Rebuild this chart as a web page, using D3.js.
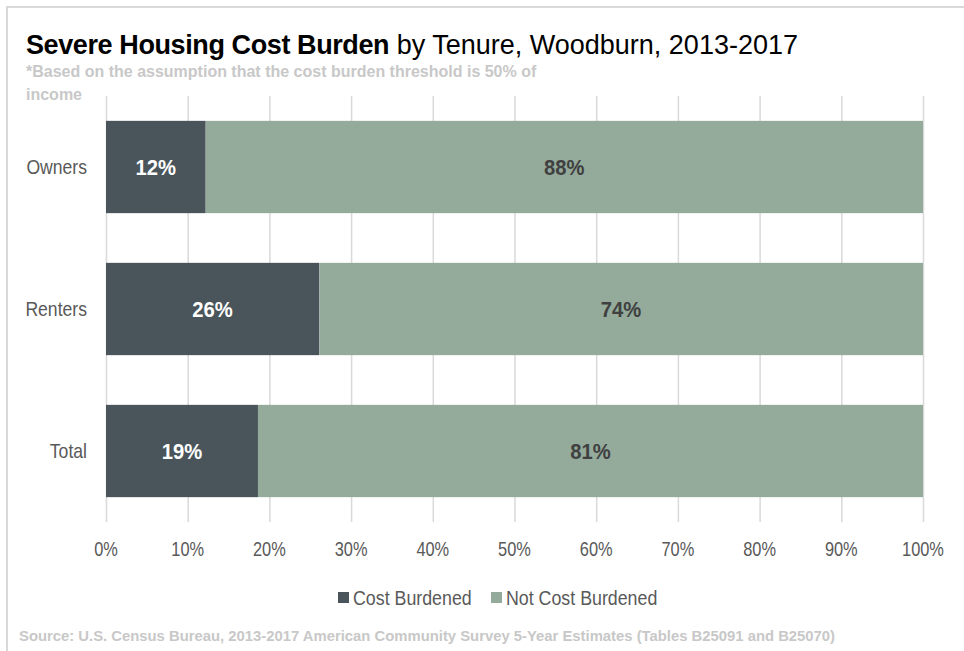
<!DOCTYPE html>
<html lang="en">
<head>
    <meta charset="UTF-8">
    <title>Severe Housing Cost Burden by Tenure, Woodburn, 2013-2017</title>
    <script src="https://cdnjs.cloudflare.com/ajax/libs/d3/7.8.5/d3.min.js"></script>
    <style>
        body { margin: 0; background: #fff; }
        svg { display: block; font-family: "Liberation Sans", Arial, sans-serif; }
        .grid line { stroke: #d9d9d9; stroke-width: 1.5; }
        .grid path { display: none; }
    </style>
</head>
<body>
    <div id="chart"></div>
    <script>
        // Data
        const categories = ["Owners", "Renters", "Total"];
        const costBurdened = [12.2, 26.1, 18.6];
        const notCostBurdened = [87.8, 73.9, 81.4];
        const seriesNames = ["Cost Burdened", "Not Cost Burdened"];
        const xTicks = [0, 10, 20, 30, 40, 50, 60, 70, 80, 90, 100];

        const W = 964, H = 651;
        const colors = ["#4a555b", "#94ab9c"];
        const labelColors = ["#ffffff", "#404040"];

        // squeeze text horizontally around its own x (the original uses a narrow font)
        function narrow(sel, f) {
            sel.each(function () {
                const t = d3.select(this);
                const ax = +t.attr("x");
                t.attr("transform", `translate(${ax},0) scale(${f},1) translate(${-ax},0)`);
            });
        }

        const svg = d3.select("#chart").append("svg")
            .attr("width", W).attr("height", H);

        // frame (top and left edges)
        svg.append("line").attr("x1", 6).attr("x2", W).attr("y1", 7).attr("y2", 7)
            .attr("stroke", "#d9d9d9").attr("stroke-width", 2);
        svg.append("line").attr("x1", 7).attr("x2", 7).attr("y1", 6).attr("y2", H)
            .attr("stroke", "#d9d9d9").attr("stroke-width", 2);

        const x = d3.scaleLinear().domain([0, 100]).range([106, 923]);
        const y = d3.scaleBand().domain(categories).range([96, 522]).paddingInner(0.35).paddingOuter(0.175);

        // grid lines
        svg.append("g")
            .attr("class", "grid")
            .attr("transform", "translate(0,522)")
            .call(d3.axisBottom(x).tickValues(xTicks).tickSize(-426).tickFormat(""));

        // stacked bars
        const rows = categories.map((c, i) => ({ cat: c, vals: [costBurdened[i], notCostBurdened[i]] }));
        rows.forEach(r => {
            let start = 0;
            r.vals.forEach((v, j) => {
                svg.append("rect")
                    .attr("x", x(start))
                    .attr("y", y(r.cat))
                    .attr("width", x(start + v) - x(start))
                    .attr("height", y.bandwidth())
                    .attr("fill", colors[j]);
                svg.append("text")
                    .attr("x", (x(start) + x(start + v)) / 2)
                    .attr("y", y(r.cat) + y.bandwidth() / 2)
                    .attr("dy", "0.36em")
                    .attr("text-anchor", "middle")
                    .attr("fill", labelColors[j])
                    .attr("font-size", 22)
                    .attr("font-weight", "bold")
                    .text(Math.round(v) + "%")
                    .call(narrow, 0.92);
                start += v;
            });
        });

        // category labels
        svg.append("g").selectAll("text").data(categories).join("text")
            .attr("x", 87)
            .attr("y", d => y(d) + y.bandwidth() / 2)
            .attr("dy", "0.36em")
            .attr("text-anchor", "end")
            .attr("fill", "#595959")
            .attr("font-size", 20)
            .text(d => d)
            .call(narrow, 0.88);

        // x tick labels
        svg.append("g").selectAll("text").data(xTicks).join("text")
            .attr("x", d => x(d))
            .attr("y", 556)
            .attr("text-anchor", "middle")
            .attr("fill", "#595959")
            .attr("font-size", 20)
            .text(d => d + "%")
            .call(narrow, 0.82);

        // title
        const title = svg.append("text").attr("x", 26).attr("y", 54)
            .attr("font-size", 27).attr("fill", "#000");
        title.append("tspan").attr("font-weight", "bold").attr("letter-spacing", -0.4).text("Severe Housing Cost Burden");
        title.append("tspan").text(" by Tenure, Woodburn, 2013-2017");

        svg.append("text").attr("x", 26).attr("y", 77)
            .attr("font-size", 16).attr("font-weight", "bold").attr("fill", "#c8c8c8")
            .text("*Based on the assumption that the cost burden threshold is 50% of");
        svg.append("text").attr("x", 26).attr("y", 100)
            .attr("font-size", 16).attr("font-weight", "bold").attr("fill", "#c8c8c8")
            .text("income");

        // legend
        const legend = svg.append("g");
        const legendX = [338, 491];
        seriesNames.forEach((s, i) => {
            legend.append("rect").attr("x", legendX[i]).attr("y", 592)
                .attr("width", 11).attr("height", 11).attr("fill", colors[i]);
            legend.append("text").attr("x", legendX[i] + 15).attr("y", 605)
                .attr("font-size", 20).attr("fill", "#595959").text(s)
                .call(narrow, 0.89);
        });

        // source
        svg.append("text").attr("x", 19).attr("y", 641)
            .attr("font-size", 15).attr("font-weight", "bold").attr("fill", "#c8c8c8")
            .text("Source: U.S. Census Bureau, 2013-2017 American Community Survey 5-Year Estimates (Tables B25091 and B25070)")
            .call(narrow, 0.99);
    </script>
</body>
</html>
